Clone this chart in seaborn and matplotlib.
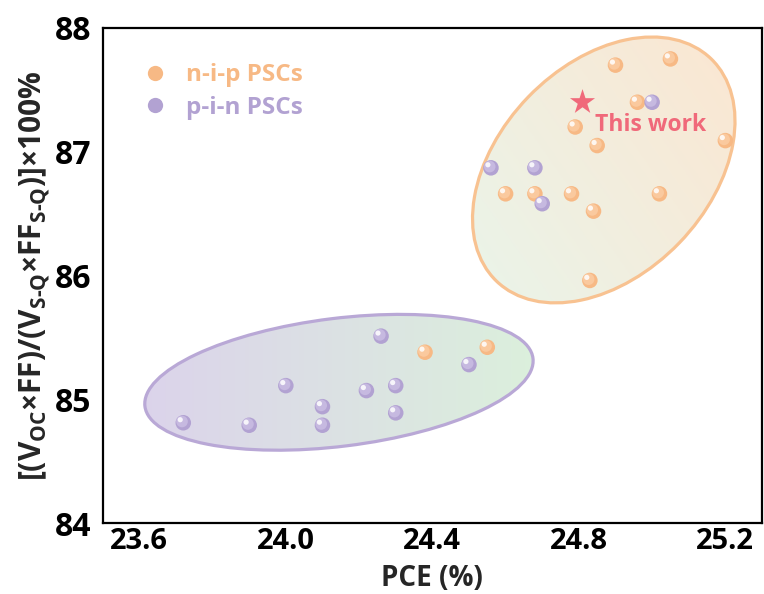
import numpy as np
import pandas as pd
import matplotlib
matplotlib.use("Agg")
import matplotlib.pyplot as plt
import seaborn as sns
from matplotlib.patches import Ellipse
from matplotlib.lines import Line2D
import matplotlib.transforms as mtransforms
from matplotlib.colors import LinearSegmentedColormap
from matplotlib.ticker import MultipleLocator, FixedLocator

# ---------------- data ----------------
nip_pce = [24.90, 25.05, 24.96, 24.79, 24.85, 25.20, 24.60, 24.68, 24.78, 25.02, 24.84, 24.83, 24.38, 24.55]
nip_ratio = [87.70, 87.75, 87.40, 87.20, 87.05, 87.09, 86.66, 86.66, 86.66, 86.66, 86.52, 85.96, 85.38, 85.42]
pin_pce = [25.00, 24.56, 24.68, 24.70, 24.26, 24.50, 24.00, 24.22, 24.30, 24.10, 24.10, 24.30, 23.72, 23.90]
pin_ratio = [87.40, 86.87, 86.87, 86.58, 85.51, 85.28, 85.11, 85.07, 85.11, 84.94, 84.79, 84.89, 84.81, 84.79]
this_pce = [24.81]
this_ratio = [87.40]
series_labels = ["n-i-p PSCs", "p-i-n PSCs"]
this_label = "This work"
x_ticks = [23.6, 24.0, 24.4, 24.8, 25.2]
y_ticks = [84, 85, 86, 87, 88]
x_label = "PCE (%)"
y_label = r"[(V$_{\text{OC}}$×FF)/(V$_{\text{S-Q}}$×FF$_{\text{S-Q}}$)]×100%"

# ---------------- style ----------------
sns.set_theme(style="white")
plt.rcParams["font.family"] = ["Open Sans", "DejaVu Sans"]
plt.rcParams["font.weight"] = "bold"
plt.rcParams["mathtext.fontset"] = "custom"
plt.rcParams["mathtext.rm"] = "Open Sans:bold"
plt.rcParams["mathtext.it"] = "Open Sans:bold"
plt.rcParams["mathtext.bf"] = "Open Sans:bold"

ORANGE = "#F7B985"
ORANGE_MID = "#FAC99E"
PURPLE = "#B2A2D2"
PURPLE_MID = "#C6B9E0"
STAR = "#F0697A"

fig = plt.figure(figsize=(7.64, 5.94), dpi=100)
ax = fig.add_axes([102.7 / 764, 1 - 523 / 594, (762 - 102.7) / 764, (523 - 28) / 594])
ax.set_xlim(23.5, 25.3)
ax.set_ylim(84, 88)
ax.autoscale(False)


def add_region(cx, cy, w, h, ang, edge, c0, c1, grad_ang):
    px, py = ax.transData.transform((cx, cy))
    e = Ellipse((px, py), w, h, angle=ang, transform=mtransforms.IdentityTransform(),
                facecolor="none", edgecolor=edge, lw=2.3, zorder=3)
    ax.add_patch(e)
    half = max(w, h) / 2 + 6
    x0, y0 = ax.transData.inverted().transform((px - half, py - half))
    x1, y1 = ax.transData.inverted().transform((px + half, py + half))
    n = 200
    gx, gy = np.meshgrid(np.linspace(-1, 1, n), np.linspace(-1, 1, n))
    t = gx * np.cos(np.radians(grad_ang)) + gy * np.sin(np.radians(grad_ang))
    t = (t - t.min()) / (t.max() - t.min())
    cmap = LinearSegmentedColormap.from_list("g", [c0, c1])
    im = ax.imshow(t, cmap=cmap, extent=(x0, x1, y0, y1), origin="lower",
                   aspect="auto", zorder=2, interpolation="bilinear")
    im.set_clip_path(e)


# region ellipses (pixel sizes)
add_region(24.868, 86.853, 309, 210, 46, "#F8C291", "#E8F6EC", "#FDE5CF", 35)
add_region(24.145, 85.137, 391, 128, 7.06, "#B9A8D6", "#DBD3EB", "#DCF0DC", 0)

# ---------------- points ----------------
df = pd.DataFrame({
    "pce": nip_pce + pin_pce,
    "ratio": nip_ratio + pin_ratio,
    "type": [series_labels[0]] * len(nip_pce) + [series_labels[1]] * len(pin_pce),
})
sns.scatterplot(data=df, x="pce", y="ratio", hue="type",
                palette={series_labels[0]: ORANGE, series_labels[1]: PURPLE},
                s=125, edgecolor="none", legend=False, ax=ax, zorder=5)

def shifted(dx, dy):
    return ax.transData + mtransforms.ScaledTranslation(dx / 72, dy / 72, fig.dpi_scale_trans)

for xs, ys, mid in [(nip_pce, nip_ratio, ORANGE_MID), (pin_pce, pin_ratio, PURPLE_MID)]:
    ax.scatter(xs, ys, s=70, color=mid, edgecolor="none", zorder=6, transform=shifted(-0.9, 0.9))
    ax.scatter(xs, ys, s=14, color="white", alpha=0.85, edgecolor="none", zorder=7, transform=shifted(-2.2, 2.2))

ax.scatter(this_pce, this_ratio, marker="*", s=360, color=STAR, edgecolor="none", zorder=8)
ax.annotate(this_label, xy=(this_pce[0], this_ratio[0]), xytext=(9.3, -20.4),
            textcoords="offset points", ha="left", va="baseline",
            color=STAR, fontsize=16.5, fontweight="bold", zorder=9)

# ---------------- legend ----------------
handles = [Line2D([], [], ls="", marker="o", markersize=11, markerfacecolor=ORANGE, markeredgecolor="none"),
           Line2D([], [], ls="", marker="o", markersize=11, markerfacecolor=PURPLE, markeredgecolor="none")]
leg = ax.legend(handles, series_labels, loc="upper left", bbox_to_anchor=(0.062, 0.929),
                frameon=False, handlelength=0.9, handletextpad=0.85, labelspacing=0.35,
                borderpad=0, borderaxespad=0, labelcolor="markerfacecolor",
                prop={"weight": "bold", "size": 17.5})

# ---------------- axes ----------------
ax.xaxis.set_major_locator(FixedLocator(x_ticks))
ax.xaxis.set_minor_locator(MultipleLocator(0.2))
ax.yaxis.set_major_locator(FixedLocator(y_ticks))
ax.yaxis.set_minor_locator(MultipleLocator(0.5))
ax.set_xticklabels([f"{v:.1f}" for v in x_ticks])
ax.set_yticklabels([f"{v:d}" for v in y_ticks])
ax.tick_params(axis="both", which="both", direction="in", top=False, right=False,
               width=1.4, colors="black")
ax.tick_params(axis="x", which="major", labelsize=21, pad=3)
ax.tick_params(axis="y", which="major", labelsize=23, pad=8)
ax.tick_params(axis="both", which="major", length=7)
ax.tick_params(axis="both", which="minor", length=5)
for lab in ax.get_xticklabels() + ax.get_yticklabels():
    lab.set_fontweight("bold")
for sp in ax.spines.values():
    sp.set_visible(True)
    sp.set_color("black")
    sp.set_linewidth(1.6)
ax.set_facecolor("white")
ax.set_xlabel(x_label, fontsize=20, fontweight="bold", labelpad=6)
ax.set_ylabel(y_label, fontsize=21.5, fontweight="bold", labelpad=2)
ax.set_xlim(23.5, 25.3)
ax.set_ylim(84, 88)

fig.savefig("out.png", dpi=100)
